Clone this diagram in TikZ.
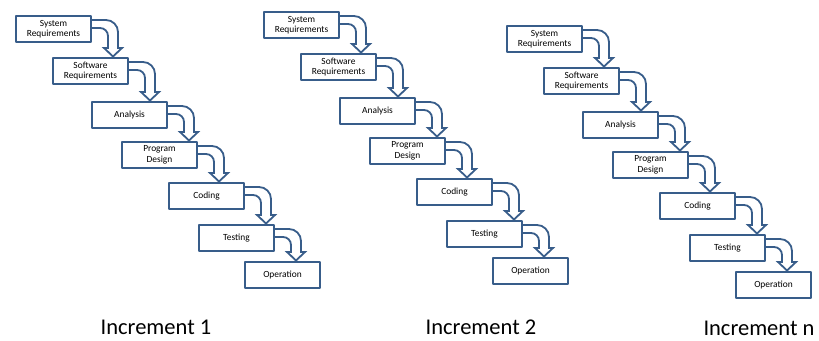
\documentclass[tikz,border=0pt]{standalone}
\usepackage{fontspec}
\setmainfont{Carlito}
\usetikzlibrary{calc}
\definecolor{boxblue}{RGB}{56,93,138}
\tikzset{
  every picture/.style={line join=round, line cap=round},
  stage/.style={draw=boxblue, line width=2.2pt, fill=white, minimum width=74.8pt,
    minimum height=25.8pt, inner sep=1pt, align=center,
    font=\fontsize{9.4}{10.5}\selectfont},
  bend arrow/.style={draw=boxblue, line width=1.8pt, fill=white, line join=miter},
  increment/.style={anchor=base, font=\fontsize{22.5}{26}\selectfont},
}
% hollow bent arrow from the right side of #1 down onto the top of #2
\newcommand{\stagearrow}[2]{%
  \path[bend arrow] let \p1=(#1.north east), \p2=(#2.north) in
    (\x1-1pt,\y1-5pt) -- (\x1+14pt,\y1-5pt) arc[start angle=90, end angle=0, radius=12pt]
    -- (\x1+26pt,\y2+9pt) -- (\x1+30pt,\y2+9pt) -- (\x1+21pt,\y2+0.5pt)
    -- (\x1+12pt,\y2+9pt) -- (\x1+16pt,\y2+9pt)
    -- (\x1+16pt,\y1-21pt) arc[start angle=0, end angle=90, radius=8pt]
    -- (\x1-1pt,\y1-13pt) -- cycle;
}
\begin{document}
\begin{tikzpicture}[x=1pt,y=-1pt]
\useasboundingbox (0,0) rectangle (819,340);
\foreach \k/\ox/\oy in {1/15/15, 2/263/11, n/506/25}{
  \begin{scope}[shift={(\ox,\oy)}]
    \node[stage] (sys\k)  at (38.5,14)  {System\\Requirements};
    \node[stage] (soft\k) at (75.5,56)  {Software\\Requirements};
    \node[stage] (ana\k)  at (114.5,100) {Analysis};
    \node[stage] (des\k)  at (144.5,140) {Program\\Design};
    \node[stage] (cod\k)  at (191.5,181) {Coding};
    \node[stage] (tes\k)  at (221.5,223) {Testing};
    \node[stage] (ope\k)  at (267.5,260) {Operation};
  \end{scope}
  \stagearrow{sys\k}{soft\k}
  \stagearrow{soft\k}{ana\k}
  \stagearrow{ana\k}{des\k}
  \stagearrow{des\k}{cod\k}
  \stagearrow{cod\k}{tes\k}
  \stagearrow{tes\k}{ope\k}
}
\node[increment] (inc1) at (156,334) {Increment 1};
\node[increment] (inc2) at (481,334) {Increment 2};
\node[increment, anchor=base east] (incn) at (818,335) {Increment n};
\end{tikzpicture}
\end{document}
